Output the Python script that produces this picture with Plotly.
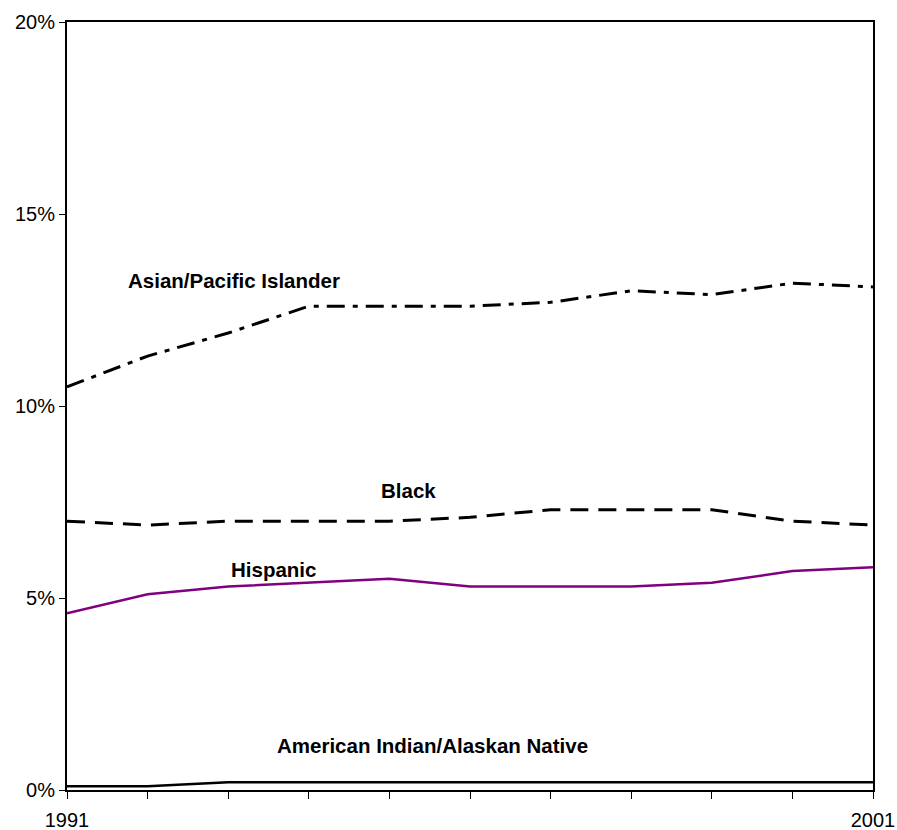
import plotly.graph_objects as go

years = [1991, 1992, 1993, 1994, 1995, 1996, 1997, 1998, 1999, 2000, 2001]
asian = [10.5, 11.3, 11.9, 12.6, 12.6, 12.6, 12.7, 13.0, 12.9, 13.2, 13.1]
black = [7.0, 6.9, 7.0, 7.0, 7.0, 7.1, 7.3, 7.3, 7.3, 7.0, 6.9]
hispanic = [4.6, 5.1, 5.3, 5.4, 5.5, 5.3, 5.3, 5.3, 5.4, 5.7, 5.8]
am_indian = [0.1, 0.1, 0.2, 0.2, 0.2, 0.2, 0.2, 0.2, 0.2, 0.2, 0.2]

x_tick_labels = ["1991", "", "", "", "", "", "", "", "", "", "2001"]
y_tick_vals = [0, 5, 10, 15, 20]
y_tick_labels = ["0%", "5%", "10%", "15%", "20%"]

labels = ["Asian/Pacific Islander", "Black", "Hispanic", "American Indian/Alaskan Native"]
label_x = [1993.07, 1995.24, 1993.56, 1995.53]
label_y = [13.26, 7.81, 5.73, 1.17]

fig = go.Figure()
fig.add_trace(go.Scatter(x=years, y=asian, mode="lines", name=labels[0],
                         line=dict(color="black", width=3, dash="18px,8px,5px,8px")))
fig.add_trace(go.Scatter(x=years, y=black, mode="lines", name=labels[1],
                         line=dict(color="black", width=3, dash="18px,10px")))
fig.add_trace(go.Scatter(x=years, y=hispanic, mode="lines", name=labels[2],
                         line=dict(color="#800080", width=2.5)))
fig.add_trace(go.Scatter(x=years, y=am_indian, mode="lines", name=labels[3],
                         line=dict(color="black", width=2.5)))

for t, x, y in zip(labels, label_x, label_y):
    fig.add_annotation(x=x, y=y, text="<b>%s</b>" % t, showarrow=False,
                       font=dict(family="Liberation Sans, Arial", size=20.5, color="black"))

fig.update_layout(
    width=897, height=830,
    margin=dict(l=67, r=24, t=22, b=40),
    paper_bgcolor="white", plot_bgcolor="white",
    showlegend=False,
    font=dict(family="Liberation Sans, Arial", size=20, color="black"),
)
fig.update_xaxes(range=[1991, 2001], tickvals=years, ticktext=x_tick_labels,
                 ticks="outside", ticklen=7, tickwidth=1, tickcolor="black",
                 showline=True, linecolor="black", linewidth=2, mirror=True,
                 showgrid=False, zeroline=False, ticklabelstandoff=4,
                 ticklabeloverflow="allow", automargin=False)
fig.update_yaxes(range=[0, 20], tickvals=y_tick_vals, ticktext=y_tick_labels,
                 ticks="outside", ticklen=6, tickwidth=1, tickcolor="black",
                 showline=True, linecolor="black", linewidth=2, mirror=True,
                 showgrid=False, zeroline=False, automargin=False)

# remove the default page margin so the figure fills the window exactly
fig.write_html("out.html",
               config={"displayModeBar": False},
               post_script="document.body.style.margin='0';document.body.style.overflow='hidden';")
